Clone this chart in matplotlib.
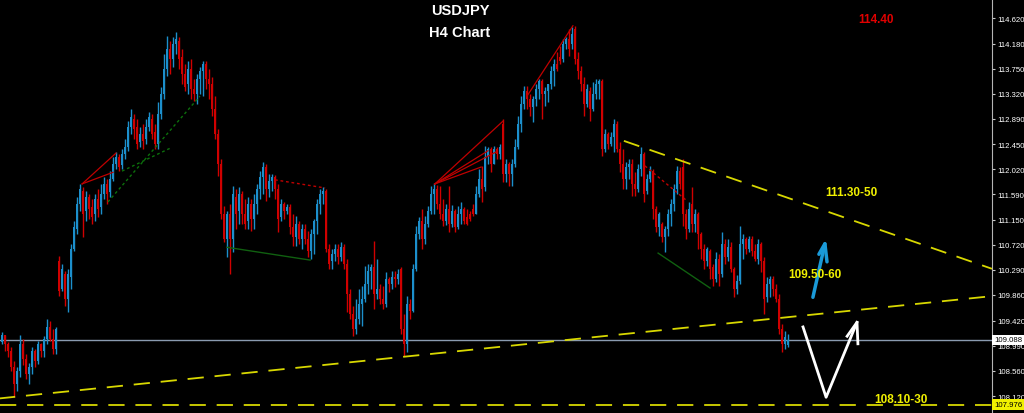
import numpy as np
import matplotlib
matplotlib.use("Agg")
import matplotlib.pyplot as plt
from matplotlib.transforms import blended_transform_factory

# USDJPY H4 candles (prices)
opens = [
    109.05, 109.17, 109.02, 108.90, 108.62, 108.33, 108.55, 109.02, 108.76, 108.50,
    108.62, 108.90, 108.72, 109.02, 108.90, 109.10, 109.31, 109.10, 108.93, 110.44,
    109.96, 110.22, 109.79, 110.17, 110.65, 110.99, 111.42, 111.65, 111.30, 111.54,
    111.37, 111.25, 111.51, 111.37, 111.60, 111.77, 111.63, 111.85, 112.11, 112.23,
    112.10, 112.28, 112.40, 112.75, 112.89, 112.75, 112.49, 112.63, 112.54, 112.75,
    112.89, 112.66, 112.46, 112.97, 113.32, 113.75, 114.09, 113.92, 114.18, 114.23,
    113.95, 113.66, 113.49, 113.75, 113.40, 113.32, 113.57, 113.71, 113.83, 113.57,
    113.49, 113.06, 112.63, 112.11, 111.25, 110.82, 111.25, 110.82, 111.54, 111.30,
    111.60, 111.25, 111.13, 111.42, 111.17, 111.42, 111.68, 111.89, 112.06, 111.68,
    111.82, 111.89, 111.68, 111.20, 111.42, 111.30, 111.37, 111.03, 110.86, 111.08,
    110.82, 110.99, 110.82, 110.62, 110.91, 111.13, 111.42, 111.60, 111.65, 110.65,
    110.44, 110.56, 110.65, 110.51, 110.69, 110.39, 109.88, 109.53, 109.27, 109.45,
    109.70, 109.79, 110.05, 110.27, 110.34, 109.88, 109.96, 109.79, 109.70, 110.13,
    110.05, 110.17, 110.13, 110.31, 109.27, 109.02, 109.70, 109.58, 110.31, 110.91,
    111.13, 110.82, 111.08, 111.30, 111.60, 111.68, 111.42, 111.25, 111.13, 111.34,
    111.08, 111.30, 111.03, 111.25, 111.34, 111.20, 111.25, 111.34, 111.25, 111.60,
    111.85, 111.72, 112.23, 112.37, 112.11, 112.37, 112.28, 112.80, 111.94, 112.11,
    111.94, 112.11, 112.40, 112.80, 113.14, 113.37, 113.23, 113.09, 113.23, 113.40,
    113.54, 113.32, 113.37, 113.49, 113.71, 113.83, 113.95, 113.92, 114.18, 114.26,
    114.18, 114.43, 113.92, 113.71, 113.49, 113.14, 113.37, 113.06, 113.32, 113.49,
    113.54, 112.37, 112.63, 112.46, 112.58, 112.80, 112.37, 112.11, 111.85, 112.06,
    112.11, 111.77, 111.68, 112.03, 112.28, 111.65, 111.85, 111.99, 111.34, 111.03,
    111.08, 110.86, 110.99, 111.25, 111.42, 111.68, 111.99, 112.06, 111.25, 110.99,
    111.42, 111.08, 111.25, 110.91, 110.65, 110.44, 110.62, 110.34, 110.13, 110.48,
    110.22, 110.74, 110.51, 110.69, 110.31, 109.96, 110.10, 110.74, 110.82, 110.65,
    110.82, 110.62, 110.48, 110.74, 110.44, 109.82, 110.05, 110.13, 109.96, 109.79,
    109.27, 109.02, 109.00]

closes = [
    109.17, 109.02, 108.90, 108.62, 108.33, 108.55, 109.02, 108.76, 108.50, 108.62,
    108.90, 108.72, 109.02, 108.90, 109.10, 109.31, 109.10, 108.93, 109.27, 109.93,
    110.31, 109.79, 110.22, 110.65, 111.03, 111.42, 111.68, 111.25, 111.54, 111.34,
    111.20, 111.51, 111.34, 111.60, 111.77, 111.60, 111.85, 112.11, 112.23, 112.06,
    112.28, 112.40, 112.75, 112.92, 112.71, 112.46, 112.63, 112.51, 112.75, 112.92,
    112.63, 112.46, 112.97, 113.32, 113.75, 114.09, 113.92, 114.18, 114.26, 113.92,
    113.66, 113.44, 113.75, 113.40, 113.32, 113.57, 113.71, 113.83, 113.57, 113.49,
    113.06, 112.63, 112.11, 111.25, 110.82, 111.25, 110.82, 111.60, 111.25, 111.60,
    111.25, 111.08, 111.42, 111.17, 111.42, 111.68, 111.89, 112.06, 111.68, 111.82,
    111.89, 111.68, 111.17, 111.42, 111.30, 111.37, 111.03, 110.86, 111.08, 110.82,
    110.99, 110.82, 110.62, 110.91, 111.13, 111.42, 111.60, 111.65, 110.65, 110.39,
    110.56, 110.65, 110.51, 110.69, 110.39, 109.88, 109.53, 109.27, 109.45, 109.70,
    109.79, 110.05, 110.27, 110.34, 109.88, 109.96, 109.79, 109.70, 110.13, 110.05,
    110.17, 110.13, 110.22, 109.27, 109.02, 109.70, 109.58, 110.31, 110.91, 111.13,
    110.82, 111.08, 111.30, 111.60, 111.68, 111.42, 111.25, 111.13, 111.34, 111.08,
    111.30, 111.03, 111.25, 111.34, 111.13, 111.08, 111.17, 111.25, 111.60, 111.85,
    111.68, 112.23, 112.37, 112.11, 112.37, 112.28, 112.40, 111.94, 112.11, 111.94,
    112.11, 112.40, 112.80, 113.14, 113.37, 113.23, 113.09, 113.23, 113.40, 113.54,
    113.32, 113.37, 113.49, 113.71, 113.83, 113.75, 113.88, 114.18, 114.26, 114.09,
    114.35, 113.92, 113.71, 113.49, 113.14, 113.40, 113.06, 113.32, 113.49, 113.54,
    112.37, 112.63, 112.46, 112.58, 112.80, 112.37, 112.11, 111.85, 112.06, 112.11,
    111.77, 111.68, 112.03, 112.28, 111.60, 111.85, 111.99, 111.34, 111.03, 111.25,
    110.86, 110.99, 111.25, 111.42, 111.68, 111.99, 111.77, 111.25, 110.99, 111.34,
    111.08, 111.25, 110.91, 110.65, 110.44, 110.65, 110.31, 110.13, 110.48, 110.22,
    110.74, 110.51, 110.69, 110.31, 109.96, 110.10, 110.74, 110.82, 110.65, 110.82,
    110.62, 110.48, 110.74, 110.44, 109.79, 110.05, 110.13, 109.96, 109.79, 109.27,
    109.02, 109.14, 109.09]

highs = [
    109.22, 109.14, 109.05, 108.96, 108.72, 108.62, 109.17, 109.10, 108.84, 108.69,
    108.96, 108.93, 109.07, 109.03, 109.15, 109.45, 109.41, 109.27, 109.31, 110.53,
    110.39, 110.27, 110.31, 110.74, 111.13, 111.54, 111.77, 111.72, 111.65, 111.60,
    111.51, 111.60, 111.68, 111.77, 111.89, 111.85, 111.99, 112.23, 112.32, 112.28,
    112.37, 112.54, 112.85, 113.06, 112.97, 112.89, 112.75, 112.80, 112.89, 113.01,
    112.97, 112.80, 113.18, 113.44, 114.00, 114.31, 114.23, 114.30, 114.38, 114.30,
    114.09, 113.83, 113.88, 113.92, 113.57, 113.66, 113.78, 113.88, 113.88, 113.75,
    113.61, 113.28, 112.71, 112.20, 111.39, 111.30, 111.42, 111.73, 111.68, 111.72,
    111.65, 111.51, 111.54, 111.51, 111.60, 111.77, 111.99, 112.15, 112.11, 111.94,
    111.94, 111.92, 111.77, 111.51, 111.46, 111.42, 111.42, 111.25, 111.22, 111.13,
    111.08, 111.08, 110.96, 110.99, 111.17, 111.51, 111.68, 111.72, 111.68, 110.74,
    110.65, 110.74, 110.74, 110.77, 110.74, 110.48, 109.96, 109.67, 109.79, 109.96,
    110.01, 110.36, 110.39, 110.39, 110.79, 110.48, 110.05, 110.01, 110.25, 110.17,
    110.27, 110.27, 110.31, 110.34, 109.53, 109.84, 109.79, 110.39, 111.05, 111.20,
    111.34, 111.22, 111.39, 111.73, 111.79, 111.75, 111.73, 111.51, 111.42, 111.73,
    111.41, 111.34, 111.39, 111.46, 111.37, 111.34, 111.30, 111.42, 111.73, 112.03,
    112.08, 112.42, 112.40, 112.40, 112.42, 112.40, 112.46, 112.89, 112.20, 112.15,
    112.20, 112.54, 112.94, 113.28, 113.45, 113.45, 113.32, 113.28, 113.49, 113.57,
    113.57, 113.44, 113.49, 113.80, 113.92, 114.04, 114.14, 114.26, 114.30, 114.43,
    114.47, 114.49, 114.04, 113.80, 113.61, 113.49, 113.44, 113.52, 113.57, 113.57,
    113.57, 112.71, 112.66, 112.66, 112.89, 112.85, 112.49, 112.37, 112.15, 112.20,
    112.20, 111.97, 112.11, 112.40, 112.32, 111.94, 112.08, 112.03, 111.39, 111.29,
    111.11, 111.05, 111.34, 111.51, 111.77, 112.08, 112.06, 112.20, 111.34, 111.46,
    111.72, 111.34, 111.29, 110.94, 110.74, 110.69, 110.65, 110.39, 110.60, 110.56,
    110.94, 110.82, 110.82, 110.77, 110.34, 110.20, 111.05, 110.91, 110.86, 110.87,
    110.87, 110.74, 110.82, 110.77, 110.51, 110.17, 110.19, 110.19, 110.05, 109.88,
    109.36, 109.24, 109.19]

lows = [
    109.02, 108.90, 108.79, 108.55, 108.10, 108.21, 108.45, 108.65, 108.41, 108.33,
    108.50, 108.62, 108.67, 108.79, 108.79, 109.02, 109.07, 108.84, 108.84, 109.84,
    109.93, 109.67, 109.57, 109.96, 110.62, 110.91, 111.30, 110.86, 111.13, 111.17,
    111.08, 111.13, 111.20, 111.25, 111.51, 111.42, 111.54, 111.82, 112.03, 111.99,
    112.03, 112.20, 112.34, 112.63, 112.54, 112.37, 112.40, 112.37, 112.46, 112.68,
    112.54, 112.37, 112.37, 112.89, 113.23, 113.63, 113.66, 113.78, 114.00, 113.75,
    113.49, 113.37, 113.32, 113.23, 113.20, 113.14, 113.32, 113.28, 113.40, 113.23,
    112.94, 112.54, 111.91, 111.17, 110.77, 110.51, 110.22, 110.60, 110.99, 111.08,
    111.08, 110.99, 110.99, 110.96, 110.99, 111.25, 111.51, 111.60, 111.47, 111.54,
    111.65, 111.51, 110.94, 111.13, 111.17, 111.25, 110.91, 110.70, 110.70, 110.74,
    110.65, 110.74, 110.51, 110.48, 110.56, 110.91, 111.25, 111.42, 110.60, 110.31,
    110.31, 110.44, 110.39, 110.44, 110.31, 109.57, 109.45, 109.15, 109.19, 109.36,
    109.33, 109.74, 109.88, 109.96, 109.62, 109.79, 109.70, 109.62, 109.65, 109.91,
    109.96, 110.00, 110.05, 109.19, 108.81, 108.88, 109.45, 109.57, 110.27, 110.82,
    110.65, 110.74, 111.03, 111.25, 111.25, 111.34, 111.17, 111.05, 111.06, 110.94,
    111.03, 110.94, 110.99, 111.08, 111.08, 111.06, 111.13, 111.22, 111.25, 111.54,
    111.46, 111.65, 112.11, 111.97, 112.11, 112.20, 112.20, 111.80, 111.80, 111.73,
    111.73, 112.06, 112.37, 112.66, 113.06, 113.06, 112.94, 112.83, 113.11, 113.23,
    112.89, 113.11, 113.18, 113.40, 113.45, 113.71, 113.83, 113.87, 114.09, 113.97,
    114.09, 113.83, 113.57, 113.37, 112.94, 113.09, 112.85, 113.02, 113.23, 113.23,
    112.25, 112.32, 112.37, 112.42, 112.32, 112.32, 111.97, 111.68, 111.68, 111.85,
    111.56, 111.56, 111.63, 111.91, 111.46, 111.60, 111.80, 111.17, 110.94, 110.87,
    110.77, 110.60, 110.87, 111.05, 111.30, 111.60, 111.68, 111.05, 110.82, 110.94,
    110.94, 110.94, 110.65, 110.48, 110.31, 110.36, 110.13, 110.01, 110.08, 110.01,
    110.17, 110.39, 110.44, 110.25, 109.82, 109.88, 110.05, 110.48, 110.56, 110.60,
    110.53, 110.44, 110.39, 110.25, 109.53, 109.74, 109.82, 109.84, 109.74, 109.19,
    108.88, 108.93, 108.96]

price_ticks = [114.620, 114.180, 113.750, 113.320, 112.890, 112.450, 112.020, 111.590,
               111.150, 110.720, 110.290, 109.860, 109.420, 108.990, 108.560, 108.120]
last_price = 109.088
low_mark = 107.976

# drawn lines: (bar index, price) pairs
support_line = [(-1, 108.08), (330, 109.84)]
resistance_line = [(207.3, 112.51), (330, 110.31)]
red_lines = [
    [(26.7, 111.77), (38.0, 112.30)],
    [(26.7, 111.77), (37.0, 111.97)],
    [(144.3, 111.77), (167.0, 112.85)],
    [(144.3, 111.77), (162.0, 112.34)],
    [(144.3, 111.77), (164.7, 112.32)],
    [(144.3, 111.77), (159.7, 112.06)],
    [(175.0, 113.28), (190.3, 114.49)],
]
red_dotted = [
    [(91.0, 111.84), (107.7, 111.70)],
    [(214.3, 112.08), (228.3, 111.48)],
]
green_lines = [
    [(75.0, 110.68), (102.7, 110.46)],
    [(218.7, 110.58), (236.0, 109.98)],
]
green_dotted = [
    [(35.3, 111.46), (66.0, 113.28)],
    [(40.0, 111.99), (56.7, 112.40)],
]
blue_arrow = [(270.3, 109.82), (274.3, 110.74)]
blue_head = [(272.3, 110.56), (274.3, 110.74), (275.0, 110.43)]
white_path = [(267.0, 109.31), (274.7, 108.10), (285.0, 109.39)]
white_head = [(281.7, 109.15), (285.0, 109.39), (285.3, 109.02)]

opens = np.array(opens)
closes = np.array(closes)
highs = np.maximum(np.array(highs), np.maximum(opens, closes))
lows = np.minimum(np.array(lows), np.minimum(opens, closes))
x = np.arange(len(opens))

BULL = '#1c8fcc'
BEAR = '#d00000'

fig = plt.figure(figsize=(10.24, 4.14), dpi=100, facecolor='black')
ax = fig.add_axes([0, 0, 992 / 1024, 1])
ax.set_facecolor('black')

up = closes >= opens
cols = np.where(up, BULL, BEAR)
ax.vlines(x, lows, highs, colors=cols, linewidth=1.0, zorder=3)
body_low = np.minimum(opens, closes)
body_h = np.maximum(np.abs(closes - opens), 0.015)
ax.bar(x, body_h, bottom=body_low, width=0.7, color=cols, linewidth=0, zorder=3)

def seg(pts):
    return [p[0] for p in pts], [p[1] for p in pts]

# horizontal levels
ax.axhline(last_price, color='#8a9bb0', lw=1.0, zorder=2)
ax.axhline(low_mark, color='#d8d800', lw=1.3, dashes=(9, 6), zorder=2)

for pts in (support_line, resistance_line):
    xs, ys = seg(pts)
    ax.plot(xs, ys, color='#d8d800', lw=1.3, dashes=(9, 6), zorder=4)

for pts in red_lines:
    xs, ys = seg(pts)
    ax.plot(xs, ys, color='#c00000', lw=0.9, zorder=4)
for pts in red_dotted:
    xs, ys = seg(pts)
    ax.plot(xs, ys, color='#c00000', lw=1.0, dashes=(2, 2), zorder=4)
for pts in green_lines:
    xs, ys = seg(pts)
    ax.plot(xs, ys, color='#106010', lw=1.0, zorder=4)
for pts in green_dotted:
    xs, ys = seg(pts)
    ax.plot(xs, ys, color='#0c700c', lw=1.0, dashes=(2, 2), zorder=4)

xs, ys = seg(blue_arrow)
ax.plot(xs, ys, color='#1a9ad8', lw=2.5, solid_capstyle='round', zorder=5)
xs, ys = seg(blue_head)
ax.plot(xs, ys, color='#1a9ad8', lw=2.5, solid_capstyle='round', zorder=5)
xs, ys = seg(white_path)
ax.plot(xs, ys, color='white', lw=2.0, zorder=5)
xs, ys = seg(white_head)
ax.plot(xs, ys, color='white', lw=2.0, zorder=5)

ax.set_xlim(-0.67, 330)
ax.set_ylim(107.83, 114.95)

# right price scale
ax.yaxis.tick_right()
ax.set_yticks(price_ticks)
ax.set_yticklabels(['%.3f' % t for t in price_ticks], family='Liberation Sans')
ax.tick_params(axis='y', colors='#c8c8c8', labelcolor='white', labelsize=5.6,
               length=2.5, width=0.8, pad=1.5)
ax.set_xticks([])
for s in ('top', 'bottom', 'left'):
    ax.spines[s].set_visible(False)
ax.spines['right'].set_color('#b4b4b4')

tr = blended_transform_factory(ax.transAxes, ax.transData)
ax.text(1.002, last_price, '%.3f' % last_price, transform=tr, color='black',
        fontsize=5.6, family='Liberation Sans', va='center', ha='left', clip_on=False,
        bbox=dict(boxstyle='square,pad=0.2', fc='white', ec='none'), zorder=10)
ax.text(1.002, low_mark, '%.3f' % low_mark, transform=tr, color='black',
        fontsize=5.6, family='Liberation Sans', va='center', ha='left', clip_on=False,
        bbox=dict(boxstyle='square,pad=0.2', fc='#f0f000', ec='none'), zorder=10)

bold = dict(family='Liberation Sans', fontweight='bold')
fig.text(460 / 1024, 1 - 11 / 414, 'USDJPY', color='white', fontsize=10.5,
         ha='center', va='center', **bold)
fig.text(460 / 1024, 1 - 33 / 414, 'H4 Chart', color='white', fontsize=10.5,
         ha='center', va='center', **bold)
fig.text(876 / 1024, 1 - 20 / 414, '114.40', color='#e00000', fontsize=8.5,
         ha='center', va='center', **bold)
fig.text(851 / 1024, 1 - 193 / 414, '111.30-50', color='#f0f000', fontsize=8.5,
         ha='center', va='center', **bold)
fig.text(815 / 1024, 1 - 275 / 414, '109.50-60', color='#f0f000', fontsize=8.5,
         ha='center', va='center', **bold)
fig.text(901 / 1024, 1 - 400 / 414, '108.10-30', color='#f0f000', fontsize=8.5,
         ha='center', va='center', **bold)

fig.savefig('out.png', dpi=100, facecolor='black')
